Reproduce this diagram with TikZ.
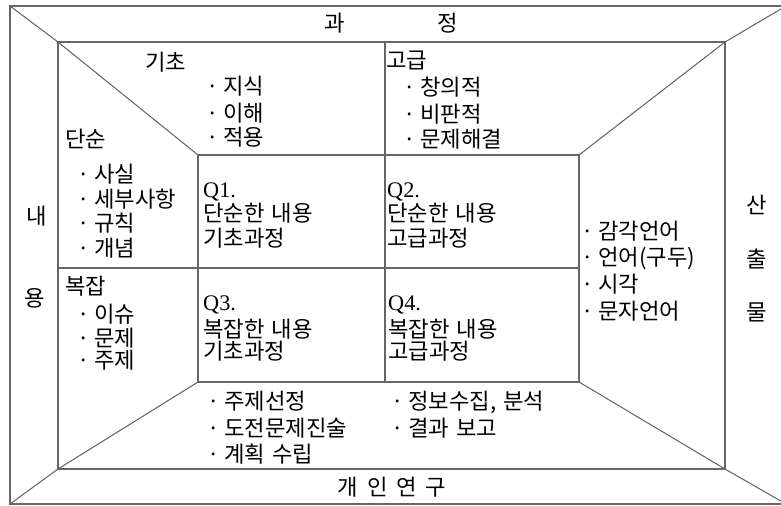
\documentclass[tikz,border=0pt]{standalone}
\usepackage{fontspec}
\usepackage{tikz}
\usetikzlibrary{positioning}
\newfontfamily\krfont{Noto Sans CJK KR}
\newfontfamily\qfont{Liberation Serif}
\newcommand\krspacing{\spaceskip=0.32em\relax}
\newcommand\studyspacing{\spaceskip=0.4em\relax}
\newcommand\listdot{·\hspace{0.2em}}

\begin{document}
\begin{tikzpicture}[
  x=0.03cm, y=-0.03cm,
  frame/.style={draw=black!60, line width=0.9pt},
  krtext/.style={font=\krfont\fontsize{19}{23}\selectfont\krspacing, inner sep=0pt, anchor=base west},
  qlabel/.style={krtext, font=\qfont\fontsize{19}{23}\selectfont},
  sidechar/.style={font=\krfont\fontsize{19}{23}\selectfont, inner sep=0pt}
]
\useasboundingbox (0,0) rectangle (781,506);
\clip (0,0) rectangle (781,506);

% corners of the frames
\coordinate (oTL) at (10,6);
\coordinate (oTR) at (786,6);
\coordinate (oBL) at (10,504);
\coordinate (oBR) at (786,504);
\coordinate (iTL) at (58,42);
\coordinate (iTR) at (725,42);
\coordinate (iBL) at (58,469);
\coordinate (iBR) at (725,469);
\coordinate (sTL) at (198,155);
\coordinate (sTR) at (579,155);
\coordinate (sBL) at (198,382);
\coordinate (sBR) at (579,382);
\coordinate (midT) at (385,42);
\coordinate (midB) at (385,382);
\coordinate (midL) at (58,268);
\coordinate (midR) at (579,268);

\draw[frame] (oTL) rectangle (oBR);
\draw[frame] (iTL) rectangle (iBR);
\draw[frame] (sTL) rectangle (sBR);
\draw[frame] (midT) -- (midB);
\draw[frame] (midL) -- (midR);
\draw[frame] (oTL) -- (iTL) -- (sTL);
\draw[frame] (oBL) -- (iBL) -- (sBL);
\draw[frame] (oTR) -- (iTR) -- (sTR);
\draw[frame] (oBR) -- (iBR) -- (sBR);

% side labels
\node[sidechar] (gwa) at (335,23) {과};
\node[sidechar] (jeong) at (448,23) {정};
\node[sidechar] (nae) at (37,216) {내};
\node[sidechar] (yong) at (35,298) {용};
\node[sidechar] (san) at (757,205) {산};
\node[sidechar] (chul) at (757,259) {출};
\node[sidechar] (mul) at (757,312) {물};
\node[sidechar, font=\krfont\fontsize{19}{23}\selectfont\studyspacing] (study) at (392,487) {개 인 연 구};

% process: basic
\node[krtext] (basic) at (145,71) {기초};
\node[krtext] (basic1) at (206,95) {\listdot 지식};
\node[krtext] (basic2) at (206,121) {\listdot 이해};
\node[krtext] (basic3) at (206,145) {\listdot 적용};
% process: advanced
\node[krtext] (adv) at (386,69) {고급};
\node[krtext] (adv1) at (403,96) {\listdot 창의적};
\node[krtext] (adv2) at (403,122) {\listdot 비판적};
\node[krtext] (adv3) at (403,147) {\listdot 문제해결};

% content: simple
\node[krtext] (simple) at (65,148) {단순};
\node[krtext] (simple1) at (77,182) {\listdot 사실};
\node[krtext] (simple2) at (77,207) {\listdot 세부사항};
\node[krtext] (simple3) at (77,231) {\listdot 규칙};
\node[krtext] (simple4) at (77,256) {\listdot 개념};
% content: complex
\node[krtext] (complex) at (65,294) {복잡};
\node[krtext] (complex1) at (77,322) {\listdot 이슈};
\node[krtext] (complex2) at (77,346) {\listdot 문제};
\node[krtext] (complex3) at (77,368) {\listdot 주제};

% quadrants
\node[qlabel] (q1) at (203,197) {Q1.};
\node[krtext] (q1a) at (203,221) {단순한 내용};
\node[krtext] (q1b) at (203,246) {기초과정};
\node[qlabel] (q2) at (387,197) {Q2.};
\node[krtext] (q2a) at (387,221) {단순한 내용};
\node[krtext] (q2b) at (387,246) {고급과정};
\node[qlabel] (q3) at (203,310) {Q3.};
\node[krtext] (q3a) at (203,337) {복잡한 내용};
\node[krtext] (q3b) at (203,359) {기초과정};
\node[qlabel] (q4) at (388,310) {Q4.};
\node[krtext] (q4a) at (388,337) {복잡한 내용};
\node[krtext] (q4b) at (388,359) {고급과정};

% products
\node[krtext] (prod1) at (581,239) {\listdot 감각언어};
\node[krtext] (prod2) at (581,265) {\listdot 언어(구두)};
\node[krtext] (prod3) at (581,292) {\listdot 시각};
\node[krtext] (prod4) at (581,319) {\listdot 문자언어};

% individual study
\node[krtext] (study1) at (207,409) {\listdot 주제선정};
\node[krtext] (study2) at (207,436) {\listdot 도전문제진술};
\node[krtext] (study3) at (207,462) {\listdot 계획 수립};
\node[krtext] (study4) at (391,409) {\listdot 정보수집, 분석};
\node[krtext] (study5) at (391,436) {\listdot 결과 보고};
\end{tikzpicture}
\end{document}
